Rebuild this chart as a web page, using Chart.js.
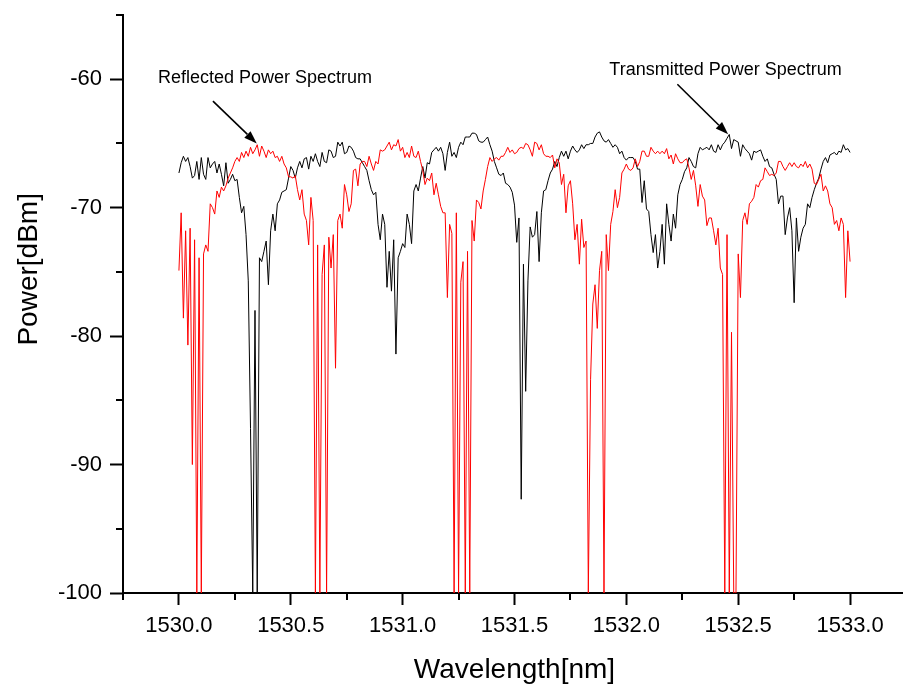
<!DOCTYPE html>
<html>
<head>
<meta charset="utf-8">
<script src="https://cdn.jsdelivr.net/npm/chart.js@4.4.1/dist/chart.umd.min.js"></script>
<style>
  html, body { margin: 0; padding: 0; background: #fff; overflow: hidden; }
  #wrap { width: 910px; height: 688px; }
</style>
</head>
<body>
<div id="wrap"><canvas id="spec" width="910" height="688"></canvas></div>
<script>
// Wavelength grid of the optical spectrum analyser sweep (nm)
const WL_START = 1530.0;
const WL_STEP = 0.01;

// Transmitted power spectrum (dBm), one value per grid step
const transmitted = [
  -67.3,-66.5,-66.0,-66.4,-66.1,-66.8,-67.7,-67.5,-66.4,-67.8,
  -66.1,-67.4,-67.8,-66.1,-66.9,-66.6,-66.4,-67.3,-66.6,-67.4,
  -68.3,-66.5,-68.1,-67.8,-67.4,-67.9,-67.8,-69.2,-70.4,-69.9,
  -72.1,-75.7,-87.2,-100,-78.0,-100,-73.9,-74.2,-73.4,-72.6,
  -76.0,-71.8,-70.5,-71.8,-69.7,-69.4,-68.8,-68.7,-68.6,-67.7,
  -66.8,-67.1,-67.7,-66.9,-66.4,-66.9,-66.2,-66.1,-67.0,-66.0,
  -66.4,-65.8,-66.4,-66.8,-65.7,-66.4,-66.5,-65.5,-65.6,-66.1,
  -66.0,-64.9,-65.2,-64.9,-65.8,-65.7,-65.2,-65.3,-65.6,-66.1,
  -66.2,-66.2,-66.5,-66.8,-67.1,-67.9,-68.6,-69.0,-68.8,-71.3,
  -72.5,-70.5,-71.3,-76.2,-73.4,-76.5,-72.5,-81.4,-73.9,-73.4,
  -72.8,-73.1,-70.5,-71.3,-72.8,-68.7,-68.2,-68.7,-67.7,-66.8,
  -67.7,-66.5,-66.6,-65.7,-65.5,-65.3,-65.6,-65.3,-65.8,-67.1,
  -65.7,-64.9,-66.0,-65.7,-66.1,-65.3,-64.9,-65.1,-64.5,-64.5,
  -64.5,-64.2,-64.2,-64.3,-64.8,-64.9,-64.9,-64.7,-64.5,-65.1,
  -65.6,-66.4,-66.9,-67.4,-67.5,-67.3,-68.1,-68.2,-68.4,-68.8,
  -69.8,-72.7,-70.8,-92.7,-74.4,-84.3,-75.7,-71.5,-72.3,-72.1,
  -70.3,-74.2,-70.4,-68.7,-68.6,-67.9,-67.3,-67.0,-66.4,-66.8,
  -66.1,-65.6,-66.0,-65.6,-66.2,-65.6,-65.2,-65.5,-65.7,-65.5,
  -65.1,-65.4,-65.1,-65.1,-65.0,-65.0,-64.5,-64.2,-64.1,-64.5,
  -64.8,-64.9,-64.7,-65.0,-65.3,-65.1,-65.3,-65.8,-65.6,-66.1,
  -66.3,-66.1,-66.1,-66.1,-66.4,-67.0,-67.0,-69.6,-67.9,-70.1,
  -70.3,-72.1,-73.5,-72.1,-74.7,-73.4,-71.3,-74.4,-69.7,-71.3,
  -72.6,-70.5,-71.6,-69.0,-68.2,-67.8,-67.2,-66.9,-66.1,-66.4,
  -66.8,-66.9,-65.8,-65.3,-65.5,-65.4,-65.3,-65.5,-65.1,-65.6,
  -65.7,-65.1,-65.5,-65.1,-64.9,-64.6,-64.3,-65.4,-64.7,-64.8,
  -64.9,-66.0,-65.1,-65.4,-65.6,-65.8,-66.3,-65.6,-65.7,-65.6,
  -65.5,-66.0,-66.4,-66.2,-66.8,-66.9,-67.4,-67.8,-69.7,-69.1,
  -69.1,-72.1,-70.8,-70.0,-71.8,-77.4,-70.8,-73.4,-72.3,-71.6,
  -71.3,-69.7,-70.0,-69.2,-68.6,-68.1,-67.7,-67.0,-66.4,-66.1,
  -66.5,-65.9,-65.8,-65.7,-65.9,-65.6,-65.7,-65.1,-65.5,-65.4,
  -65.7
];

// Reflected power spectrum (dBm), one value per grid step
const reflected = [
  -74.9,-70.4,-78.6,-71.8,-80.7,-71.6,-90.0,-72.5,-100,-73.9,
  -100,-73.6,-72.9,-73.4,-69.7,-70.0,-70.5,-68.7,-69.2,-68.4,
  -68.7,-68.3,-67.7,-67.3,-66.9,-66.4,-66.1,-66.4,-65.7,-66.1,
  -65.6,-66.0,-65.3,-65.8,-65.5,-65.1,-66.0,-65.2,-65.6,-66.1,
  -65.5,-65.8,-65.6,-66.1,-66.0,-66.4,-66.0,-66.6,-66.9,-67.6,
  -67.6,-67.7,-67.5,-68.6,-69.4,-68.6,-70.5,-71.0,-72.9,-69.2,
  -71.0,-100,-72.9,-100,-75.2,-72.9,-100,-72.3,-74.7,-72.1,
  -82.5,-71.0,-70.5,-71.6,-68.2,-69.0,-70.3,-69.7,-67.1,-67.0,
  -68.3,-66.6,-66.4,-66.4,-66.8,-66.0,-66.6,-67.1,-66.4,-66.6,
  -65.5,-65.6,-65.5,-65.2,-64.9,-65.5,-65.1,-65.2,-64.7,-65.6,
  -65.3,-66.1,-65.7,-66.1,-65.2,-66.0,-66.1,-65.6,-66.4,-67.1,
  -68.2,-67.7,-67.9,-67.3,-69.0,-68.1,-69.0,-69.9,-70.4,-70.4,
  -77.0,-71.3,-72.0,-100,-70.4,-100,-75.8,-74.2,-100,-73.4,
  -100,-71.0,-72.6,-69.4,-69.6,-70.1,-68.7,-67.8,-66.8,-66.1,
  -66.4,-66.2,-66.1,-66.3,-66.0,-66.0,-65.7,-65.3,-65.7,-65.5,
  -65.8,-65.7,-65.4,-65.3,-65.4,-65.0,-65.1,-65.5,-66.0,-64.9,
  -65.0,-65.5,-65.1,-65.8,-66.0,-66.0,-66.1,-65.9,-66.9,-66.2,
  -66.5,-68.2,-67.4,-70.4,-68.3,-67.9,-69.7,-72.5,-71.3,-74.4,
  -70.9,-73.1,-72.6,-100,-83.4,-77.5,-76.0,-79.4,-74.9,-73.4,
  -100,-72.1,-74.9,-71.3,-70.3,-68.6,-70.0,-69.2,-67.3,-67.0,
  -66.6,-67.0,-67.1,-66.9,-66.2,-66.8,-66.4,-65.6,-65.6,-66.0,
  -66.0,-65.3,-65.6,-65.8,-65.6,-65.8,-65.6,-65.8,-65.4,-66.2,
  -65.9,-66.6,-65.8,-66.2,-66.5,-66.5,-66.3,-66.2,-66.9,-67.8,
  -67.1,-68.3,-69.9,-68.2,-69.1,-69.4,-71.4,-70.8,-70.8,-71.8,
  -72.9,-71.6,-74.7,-75.2,-100,-72.1,-100,-79.7,-100,-100,
  -73.6,-77.0,-71.0,-70.4,-71.3,-69.7,-69.5,-69.2,-68.2,-68.4,
  -67.9,-67.8,-66.9,-67.2,-67.5,-67.4,-67.5,-67.3,-66.4,-66.4,
  -66.8,-67.1,-66.8,-66.5,-66.8,-66.5,-66.8,-66.9,-66.6,-66.8,
  -66.4,-66.9,-66.6,-67.0,-68.1,-68.2,-67.8,-67.4,-68.7,-68.3,
  -68.7,-69.7,-70.0,-71.3,-71.0,-71.8,-70.8,-71.3,-77.0,-71.8,
  -74.2
];

// Axis ranges and labelled tick steps
const X_MIN = 1529.75, X_MAX = 1533.25, X_MINOR = 0.25, X_MAJOR = 0.5;
const Y_MIN = -100, Y_MAX = -55, Y_MINOR = 5, Y_MAJOR = 10;

// Callout labels with arrows, in data units (wavelength, dBm)
const calloutText = ['Reflected Power Spectrum', 'Transmitted Power Spectrum'];
const calloutTextAt = [[1529.906, -60.3], [1531.924, -59.69]];
const calloutTail = [[1530.152, -61.7], [1532.228, -60.39]];
const calloutTip = [[1530.348, -65.0], [1532.455, -64.29]];

const FONT = '"Liberation Sans", Arial, Helvetica, sans-serif';

const toPoints = arr => arr.map((v, i) => ({ x: +(WL_START + i * WL_STEP).toFixed(2), y: v }));
const isMajor = (v, step) => Math.abs(v / step - Math.round(v / step)) < 1e-6;

// Short minor ticks, axis titles and callouts
const decor = {
  id: 'decor',
  afterDraw(chart) {
    const { ctx, scales: { x, y }, chartArea } = chart;
    ctx.save();
    ctx.strokeStyle = '#000';
    ctx.fillStyle = '#000';
    ctx.lineWidth = 2;
    ctx.beginPath();
    x.ticks.forEach(t => {
      if (!isMajor(t.value, X_MAJOR)) {
        const px = Math.round(x.getPixelForValue(t.value));
        ctx.moveTo(px, chartArea.bottom);
        ctx.lineTo(px, chartArea.bottom + 7);
      }
    });
    y.ticks.forEach(t => {
      if (!isMajor(t.value, Y_MAJOR)) {
        const py = Math.round(y.getPixelForValue(t.value));
        ctx.moveTo(chartArea.left - 7, py);
        ctx.lineTo(chartArea.left, py);
      }
    });
    ctx.stroke();

    // axis titles
    ctx.font = '28px ' + FONT;
    ctx.textAlign = 'center';
    ctx.textBaseline = 'alphabetic';
    ctx.fillText('Wavelength[nm]', (chartArea.left + chartArea.right) / 2, 678);
    ctx.save();
    ctx.translate(37, chartArea.top + (chartArea.bottom - chartArea.top) * 0.44);
    ctx.rotate(-Math.PI / 2);
    ctx.fillText('Power[dBm]', 0, 0);
    ctx.restore();

    // callouts
    ctx.font = '18px ' + FONT;
    ctx.textAlign = 'left';
    calloutText.forEach((txt, k) => {
      ctx.fillText(txt, x.getPixelForValue(calloutTextAt[k][0]), y.getPixelForValue(calloutTextAt[k][1]));
      const x0 = x.getPixelForValue(calloutTail[k][0]), y0 = y.getPixelForValue(calloutTail[k][1]);
      const x1 = x.getPixelForValue(calloutTip[k][0]), y1 = y.getPixelForValue(calloutTip[k][1]);
      const ang = Math.atan2(y1 - y0, x1 - x0);
      const headLen = 13, headHalf = 4.5;
      const bx = x1 - headLen * Math.cos(ang), by = y1 - headLen * Math.sin(ang);
      ctx.lineWidth = 1.6;
      ctx.beginPath();
      ctx.moveTo(x0, y0);
      ctx.lineTo(bx, by);
      ctx.stroke();
      ctx.beginPath();
      ctx.moveTo(x1, y1);
      ctx.lineTo(bx - headHalf * Math.sin(ang), by + headHalf * Math.cos(ang));
      ctx.lineTo(bx + headHalf * Math.sin(ang), by - headHalf * Math.cos(ang));
      ctx.closePath();
      ctx.fill();
    });
    ctx.restore();
  }
};

Chart.defaults.font.family = FONT;
Chart.defaults.color = '#000';

new Chart(document.getElementById('spec'), {
  type: 'line',
  data: {
    datasets: [
      { label: 'Reflected', data: toPoints(reflected), borderColor: '#ff0000', borderWidth: 1, order: 1 },
      { label: 'Transmitted', data: toPoints(transmitted), borderColor: '#000000', borderWidth: 1, order: 2 }
    ]
  },
  options: {
    responsive: false,
    animation: false,
    events: [],
    parsing: false,
    elements: { point: { radius: 0 }, line: { tension: 0 } },
    layout: { padding: { left: 0, right: 4, top: 15, bottom: 0 } },
    plugins: { legend: { display: false }, tooltip: { enabled: false } },
    scales: {
      x: {
        type: 'linear',
        min: X_MIN, max: X_MAX,
        afterFit: s => { s.height = 95; s.paddingLeft = 0; s.paddingRight = 0; },
        border: { display: true, color: '#000', width: 2 },
        grid: {
          drawOnChartArea: false, drawTicks: true, tickLength: 12, tickWidth: 2,
          tickColor: c => (c.tick && isMajor(c.tick.value, X_MAJOR)) ? '#000' : 'rgba(0,0,0,0)'
        },
        ticks: {
          stepSize: X_MINOR, autoSkip: false, maxRotation: 0, padding: 8,
          font: { size: 22 }, color: '#000',
          callback: v => isMajor(v, X_MAJOR) ? (+v).toFixed(1) : ''
        }
      },
      y: {
        type: 'linear',
        min: Y_MIN, max: Y_MAX,
        afterFit: s => { s.width = 123; s.paddingTop = 0; s.paddingBottom = 0; },
        border: { display: true, color: '#000', width: 2 },
        grid: {
          drawOnChartArea: false, drawTicks: true, tickLength: 13, tickWidth: 2,
          tickColor: c => (c.tick && isMajor(c.tick.value, Y_MAJOR)) ? '#000' : 'rgba(0,0,0,0)'
        },
        ticks: {
          stepSize: Y_MINOR, autoSkip: false, padding: 8,
          font: { size: 22 }, color: '#000',
          callback: v => isMajor(v, Y_MAJOR) ? String(Math.round(v)) : ''
        }
      }
    }
  },
  plugins: [decor]
});
</script>
</body>
</html>
